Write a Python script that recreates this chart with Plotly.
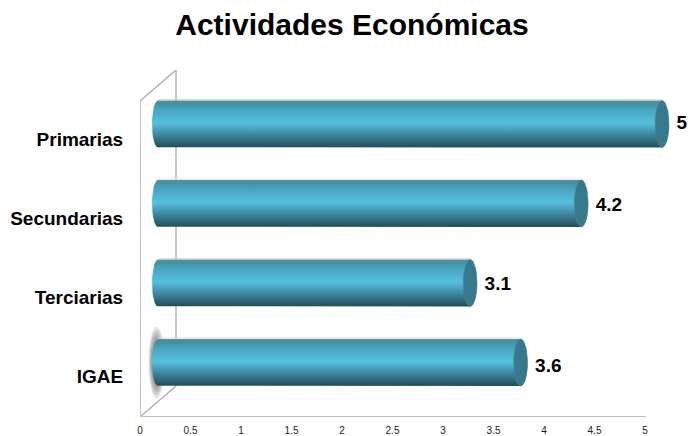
import math
import plotly.graph_objects as go

categories = ["IGAE", "Terciarias", "Secundarias", "Primarias"]
values = [3.6, 3.1, 4.2, 5]
value_labels = ["3.6", "3.1", "4.2", "5"]
x_ticks = [0, 0.5, 1, 1.5, 2, 2.5, 3, 3.5, 4, 4.5, 5]

PAGE = 8             # the page's own margin round the figure
W, H = 700 - PAGE, 436 - PAGE
PX0, PX5 = 140, 645
UX = (PX5 - PX0) / 5
UY = 79.5
TICK_STEP = 79 / UY
Y_BOTTOM = 417
Y_TOP = 70
Y_ZERO = 376
xmax = (700 - PX0) / UX
ymin = -(Y_BOTTOM - Y_ZERO) / UY
ymax = (Y_ZERO - Y_TOP) / UY

X_OFF = 17 / UX      # depth shift of the bars
Y_OFF = 13.5 / UY
RX = 7 / UX
RX_LEFT = 6 / UX
RY = 23.5 / UY
N = 24
LABEL_NUDGE_PX = {"IGAE": -5, "Terciarias": -2.5, "Secundarias": -3, "Primarias": -0.5}


def px(x):
    return (x - PX0) / UX


def py(y):
    return (Y_ZERO - y) / UY


fig = go.Figure()

scale = [[0, "#244c58"], [0.1, "#2c6272"], [0.25, "#3a8299"], [0.52, "#55bfe0"],
         [0.8, "#47a5c0"], [0.94, "#41919f"], [1, "#5d8e9c"]]

# soft shadow behind the IGAE bar
for k in range(7):
    f = 1 - k * 0.09
    a = [math.pi * 2 * i / 40 for i in range(41)]
    fig.add_trace(go.Scatter(
        x=[X_OFF - 0.5 / UX + 8 / UX * f * math.cos(t) for t in a],
        y=[0 + Y_OFF + 36 / UY * f * math.sin(t) for t in a],
        mode="lines", line=dict(width=0), fill="toself",
        fillcolor="rgba(90,90,90,0.16)", hoverinfo="skip", showlegend=False))

for i, (c, v, lab) in enumerate(zip(categories, values, value_labels)):
    yc = i + Y_OFF
    xe = v + X_OFF
    x_left = X_OFF + 1 / UX
    # faint light edge just above the cylinder
    fig.add_trace(go.Scatter(
        x=[x_left, xe], y=[yc + RY + 1 / UY, yc + RY + 1 / UY],
        mode="lines", line=dict(width=1, color="#dedede"), hoverinfo="skip", showlegend=False))
    right = [(xe + RX * math.cos(math.pi / 2 - math.pi * j / N), yc + RY * math.sin(math.pi / 2 - math.pi * j / N)) for j in range(N + 1)]
    left = [(x_left + RX_LEFT * math.cos(-math.pi / 2 - math.pi * j / N), yc + RY * math.sin(-math.pi / 2 - math.pi * j / N)) for j in range(N + 1)]
    outline = right + left + [right[0]]
    fig.add_trace(go.Scatter(
        x=[p[0] for p in outline], y=[p[1] for p in outline],
        mode="lines", line=dict(width=0), fill="toself",
        fillgradient=dict(type="vertical", colorscale=scale),
        name=c, hoverinfo="skip", showlegend=False))
    cap = [(xe + RX * math.cos(2 * math.pi * j / 48), yc + RY * math.sin(2 * math.pi * j / 48)) for j in range(49)]
    fig.add_trace(go.Scatter(
        x=[p[0] for p in cap], y=[p[1] for p in cap],
        mode="lines", line=dict(width=0.5, color="#4d8a9b"), fill="toself",
        fillcolor="#37798b", hoverinfo="skip", showlegend=False))
    fig.add_trace(go.Scatter(
        x=[xe + RX + 7.5 / UX], y=[yc + LABEL_NUDGE_PX[c] / UY], mode="text", text=[lab], textposition="middle right",
        textfont=dict(family="Liberation Sans", size=19, color="#000000", weight="bold"),
        hoverinfo="skip", showlegend=False))

wall = "#a8a8a8"
segments = [(140, 417, 140, 101), (140, 101, 176, 70), (176, 70, 176, 386), (176, 386, 140, 417)]
shapes = [dict(type="line", layer="below", xref="x", yref="y", x0=px(a), y0=py(b), x1=px(c), y1=py(d),
               line=dict(color=wall, width=1.3)) for a, b, c, d in segments]
shapes.append(dict(type="line", layer="below", xref="x", yref="y", x0=0, y0=ymin, x1=px(646), y1=ymin,
                   line=dict(color="#c0c0c0", width=2)))

fig.update_layout(
    width=W, height=H, autosize=False,
    margin=dict(l=PX0 - PAGE, r=0, t=Y_TOP - PAGE, b=436 - Y_BOTTOM, pad=0),
    plot_bgcolor="white", paper_bgcolor="white",
    showlegend=False, shapes=shapes,
    title=dict(text="Actividades Económicas", x=(352 - PAGE) / W, xanchor="center",
               y=1 - (24 - PAGE) / H, yanchor="middle",
               font=dict(family="Liberation Sans", size=30, color="#000000", weight="bold")),
    xaxis=dict(range=[0, xmax], tickvals=x_ticks, ticktext=[f"{t:g}" for t in x_ticks],
               showgrid=False, zeroline=False, showline=False, ticks="outside", ticklen=4,
               tickcolor="rgba(0,0,0,0)", tickfont=dict(family="Liberation Sans", size=10, color="#222222")),
    yaxis=dict(range=[ymin, ymax], tickvals=[i * TICK_STEP for i in range(len(categories))], ticktext=categories,
               showgrid=False, zeroline=False, showline=False, ticks="outside", ticklen=12,
               tickcolor="rgba(0,0,0,0)",
               tickfont=dict(family="Liberation Sans", size=19, color="#000000", weight="bold")),
)
fig.write_html("out.html")
